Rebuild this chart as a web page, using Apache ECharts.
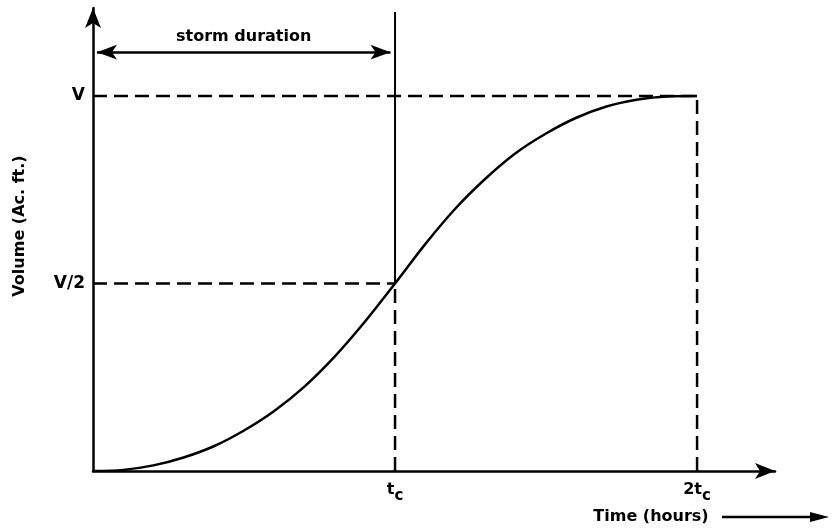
<!DOCTYPE html>
<html>
<head>
<meta charset="utf-8">
<script src="https://cdn.jsdelivr.net/npm/echarts@6/dist/echarts.min.js"></script>
<style>html,body{margin:0;padding:0;background:#fff}#c{width:833px;height:531px}</style>
</head>
<body>
<div id="c"></div>
<script>
// Time in units of tc, volume as fraction of V
var timeT = [0, 0.1, 0.2, 0.3, 0.4, 0.5, 0.6, 0.7, 0.8, 0.9, 1.0, 1.1, 1.2, 1.3, 1.4, 1.5, 1.6, 1.7, 1.8, 1.9, 2.0];
var volume = [0, 0.003, 0.015, 0.036, 0.066, 0.108, 0.160, 0.225, 0.305, 0.398, 0.5, 0.605, 0.700, 0.780, 0.848, 0.900, 0.942, 0.972, 0.990, 0.999, 1.0];
var xTickValues = [1, 2];
var xTickLabels = ['t', '2t'];
var yTickValues = [0.5, 1];
var yTickLabels = ['V/2', 'V'];
var stormStart = 0.013, stormEnd = 0.985, stormLevel = 1.117;
var tcLineTop = 1.224;

var FONT = 'DejaVu Sans';
var curveData = timeT.map(function (t, i) { return [t, volume[i]]; });
var dashStyle = { color: '#000', width: 2.5, type: [14, 7] };

function seg(data, style) {
  return { type: 'line', data: data, symbol: 'none', silent: true, animation: false,
    lineStyle: style, z: 3 };
}

var chart = echarts.init(document.getElementById('c'));
chart.setOption({
  backgroundColor: '#fff',
  animation: false,
  grid: { left: 93, right: 58, top: 8, bottom: 60, containLabel: false },
  xAxis: {
    type: 'value', min: 0, max: 2.258, interval: 1,
    axisLine: { show: true, lineStyle: { color: '#000', width: 2.5 }, symbol: ['none', 'arrow'], symbolSize: [12, 20] },
    axisTick: { show: false }, splitLine: { show: false },
    axisLabel: {
      showMaxLabel: false, margin: 11,
      formatter: function (v) {
        var i = xTickValues.indexOf(v);
        return i < 0 ? '' : '{t|' + xTickLabels[i] + '}{c|c}';
      },
      rich: {
        t: { fontFamily: FONT, fontWeight: 'bold', fontSize: 16, color: '#000', lineHeight: 22, verticalAlign: 'top' },
        c: { fontFamily: FONT, fontWeight: 'bold', fontSize: 15, color: '#000', lineHeight: 22, verticalAlign: 'bottom', padding: [10, 0, 0, 0] }
      }
    }
  },
  yAxis: {
    type: 'value', min: 0, max: 1.2347, interval: 0.5,
    axisLine: { show: true, lineStyle: { color: '#000', width: 2.5 }, symbol: ['none', 'arrow'], symbolSize: [12, 20] },
    axisTick: { show: false }, splitLine: { show: false },
    axisLabel: {
      showMaxLabel: false, margin: 8, color: '#000', fontFamily: FONT, fontWeight: 'bold', fontSize: 17,
      formatter: function (v) {
        var i = yTickValues.indexOf(v);
        return i < 0 ? '' : yTickLabels[i];
      }
    }
  },
  series: [
    { type: 'line', data: curveData, smooth: 0.3, symbol: 'none', animation: false,
      lineStyle: { color: '#000', width: 2.5 }, z: 4,
      markLine: {
        silent: true, animation: false, symbol: ['arrow', 'arrow'], symbolSize: [11, 20],
        lineStyle: { color: '#000', width: 2.5, type: 'solid' },
        label: { show: true, position: 'insideMiddleTop', distance: 7, formatter: 'storm duration',
          color: '#000', fontFamily: FONT, fontWeight: 'bold', fontSize: 16 },
        data: [[{ coord: [stormStart, stormLevel] }, { coord: [stormEnd, stormLevel] }]]
      }
    },
    seg([[0, yTickValues[1]], [xTickValues[1], yTickValues[1]]], dashStyle),
    seg([[0, yTickValues[0]], [xTickValues[0], yTickValues[0]]], dashStyle),
    seg([[xTickValues[0], 0], [xTickValues[0], yTickValues[0]]], dashStyle),
    seg([[xTickValues[0], yTickValues[0]], [xTickValues[0], tcLineTop]], { color: '#000', width: 2 }),
    seg([[xTickValues[1], 0], [xTickValues[1], yTickValues[1]]], dashStyle)
  ],
  graphic: [
    { type: 'text', x: 20, y: 226, rotation: Math.PI / 2, silent: true,
      style: { text: 'Volume (Ac. ft.)', fill: '#000', font: 'bold 16px "DejaVu Sans"', textAlign: 'center', textVerticalAlign: 'middle' } },
    { type: 'text', x: 651, y: 517, silent: true,
      style: { text: 'Time (hours)', fill: '#000', font: 'bold 16px "DejaVu Sans"', textAlign: 'center', textVerticalAlign: 'middle' } },
    { type: 'line', silent: true, shape: { x1: 722, y1: 517, x2: 815, y2: 517 }, style: { stroke: '#000', lineWidth: 2.5 } },
    { type: 'polygon', silent: true, shape: { points: [[810, 512], [829, 517], [810, 522]] }, style: { fill: '#000' } }
  ]
});
</script>
</body>
</html>
